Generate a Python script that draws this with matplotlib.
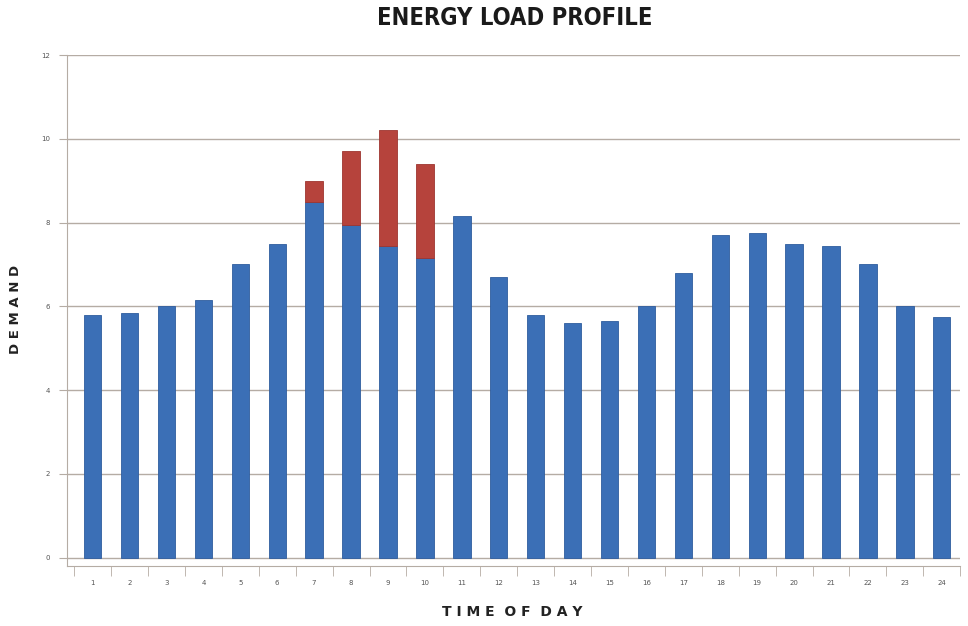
import numpy as np
import matplotlib.pyplot as plt

hours = list(range(1, 25))
base_load = [5.8, 5.85, 6.0, 6.15, 7.0, 7.5, 8.5, 7.95, 7.45, 7.15, 8.15, 6.7,
             5.8, 5.6, 5.65, 6.0, 6.8, 7.7, 7.75, 7.5, 7.45, 7.0, 6.0, 5.75]
peak_load = [0, 0, 0, 0, 0, 0, 0.5, 1.75, 2.75, 2.25, 0, 0,
             0, 0, 0, 0, 0, 0, 0, 0, 0, 0, 0, 0]
y_ticks = [0, 2, 4, 6, 8, 10, 12]

blue = '#3b6fb6'
red = '#b6433c'
grid_col = '#b5aca4'

fig = plt.figure(figsize=(9.68, 6.26), dpi=100)
ax = fig.add_axes([0.069, 0.0958, 0.923, 0.8163])

x = np.array(hours)
base = np.array(base_load)
peak = np.array(peak_load)
ax.bar(x, base, width=0.47, color=blue, edgecolor='#2f5d9e', lw=0.6, zorder=3)
has_peak = peak > 0
ax.bar(x[has_peak], peak[has_peak], width=0.47, bottom=base[has_peak], color=red,
       edgecolor='#9e3530', lw=0.6, zorder=3)

ax.set_xlim(0.3, 24.48)
ax.set_ylim(-0.2, 12)

# horizontal gridlines
for t in y_ticks:
    ax.axhline(t, color=grid_col, lw=1.0, zorder=1)

ax.set_yticks(y_ticks)
ax.set_yticklabels([str(t) for t in y_ticks], fontsize=5, color='#555555')
ax.tick_params(axis='y', length=6, color=grid_col, pad=6)

ax.set_xticks(x)
ax.set_xticklabels([str(h) for h in hours], fontsize=5, color='#555555')
ax.set_xticks(np.arange(0.5, 25, 1), minor=True)
ax.tick_params(axis='x', which='major', length=0, pad=10)
ax.tick_params(axis='x', which='minor', length=7, color=grid_col)

for s in ['top', 'right']:
    ax.spines[s].set_visible(False)
ax.spines['left'].set_color(grid_col)
ax.spines['bottom'].set_color(grid_col)

fig.text(0.532, 0.972, 'ENERGY LOAD PROFILE', ha='center', va='center',
         fontsize=17, fontweight='heavy', family='DejaVu Sans', fontstretch='condensed',
         color='#1a1a1a')
fig.text(0.529, 0.011, 'T I M E  O F  D A Y', ha='center', va='bottom',
         fontsize=10, fontweight='bold', color='#222222')
fig.text(0.016, 0.505, 'D E M A N D', ha='center', va='center', rotation=90,
         fontsize=9.5, fontweight='bold', color='#222222')

fig.savefig('out.png', dpi=100)
